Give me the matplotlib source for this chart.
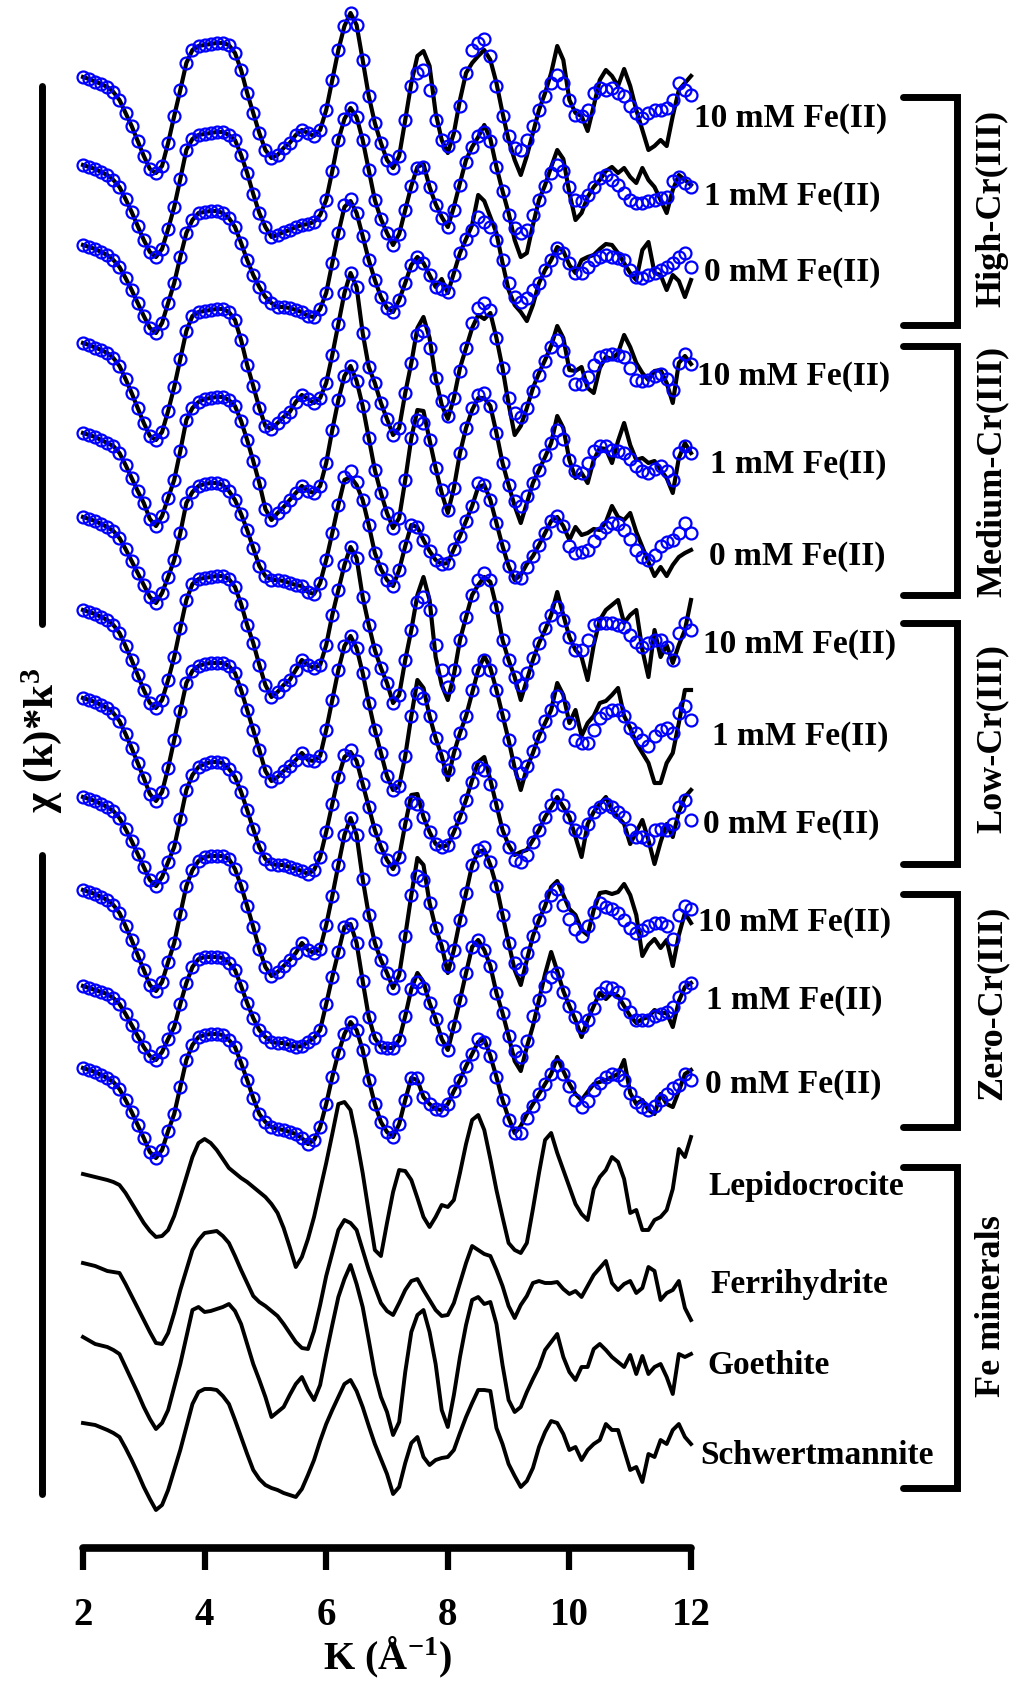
import numpy as np
import matplotlib
matplotlib.use("Agg")
import matplotlib.pyplot as plt
from matplotlib.lines import Line2D
import matplotlib.transforms as mtransforms

plt.rcParams["font.family"] = ["Liberation Serif", "DejaVu Serif"]
plt.rcParams["font.weight"] = "bold"
plt.rcParams["mathtext.fontset"] = "custom"
plt.rcParams["mathtext.rm"] = "Liberation Serif:bold"
plt.rcParams["mathtext.it"] = "Liberation Serif:bold"
plt.rcParams["mathtext.bf"] = "Liberation Serif:bold"
plt.rcParams["mathtext.default"] = "bf"

# ---------------------------------------------------------------- data
# k grid (1/Angstrom) shared by every spectrum
k = np.linspace(2.0, 12.0, 101)

# chi(k)*k^3 (arbitrary units) -- experimental spectra and shell fits
high10_data = [0, -0.2, -0.45, -0.7, -1.0, -1.5, -2.3, -3.6, -4.9, -6.4,
               -7.9, -9.2, -9.6, -8.9, -6.6, -3.9, -1.3, 1.4, 2.7, 3.1,
               3.2, 3.3, 3.4, 3.4, 3.2, 2.4, 0.7, -1.6, -3.6, -5.6,
               -7.3, -8.1, -7.8, -7.1, -6.6, -5.8, -5.3, -5.6, -5.9, -5.3,
               -3.3, -0.3, 2.7, 5.1, 6.4, 5.2, 1.7, -1.9, -4.6, -6.6,
               -8.3, -9.1, -7.9, -4.3, -0.6, 2.1, 2.6, 1.1, -3.6, -6.3,
               -7.6, -5.6, -2.3, 0.4, 1.4, 2.1, 2.7, 1.7, -0.6, -3.6,
               -6.3, -8.3, -9.8, -7.9, -5.6, -3.3, -1.6, 0.4, 3.1, 1.7,
               -2.3, -3.6, -3.9, -5.4, -2.9, -0.3, 0.7, 0.1, -0.9, 0.8,
               -0.9, -3.3, -5.3, -7.3, -6.9, -6.3, -6.9, -3.9, -1.3, -0.6,
               0.1]
high10_fit = [0, -0.2, -0.45, -0.7, -1.0, -1.5, -2.3, -3.6, -4.9, -6.4,
              -7.9, -9.2, -9.6, -8.9, -6.6, -3.9, -1.3, 1.4, 2.7, 3.1,
              3.2, 3.3, 3.4, 3.4, 3.2, 2.4, 0.7, -1.6, -3.6, -5.6,
              -7.3, -8.1, -7.8, -7.1, -6.6, -5.8, -5.3, -5.6, -5.9, -5.3,
              -3.3, -0.3, 2.7, 5.1, 6.4, 5.2, 1.7, -1.9, -4.6, -6.6,
              -8.3, -9.1, -7.9, -4.3, -0.9, 0.4, 0.7, -1.3, -4.3, -6.3,
              -6.9, -5.9, -2.9, 0.4, 2.7, 3.4, 3.8, 2.1, -0.9, -3.9,
              -5.9, -7.1, -7.3, -6.3, -4.9, -3.3, -1.9, -0.6, 0.2, -0.6,
              -2.3, -3.8, -3.9, -3.3, -1.6, -1.1, -1.3, -1.1, -1.6, -1.9,
              -2.9, -3.6, -4.1, -3.6, -3.3, -3.3, -3.1, -2.3, -0.6, -1.3,
              -1.8]

high1_data = [0, -0.2, -0.4, -0.7, -1.0, -1.5, -2.2, -3.4, -4.7, -6.1,
              -7.5, -8.7, -9.2, -8.4, -6.4, -4.2, -1.4, 1.5, 2.6, 3.0,
              3.1, 3.2, 3.3, 3.3, 3.0, 2.5, 1.0, -0.8, -2.9, -4.8,
              -6.2, -7.2, -7.0, -6.7, -6.5, -6.2, -6.0, -5.9, -5.7, -5.0,
              -3.5, -0.6, 2.5, 4.6, 5.7, 4.8, 2.5, -0.5, -3.5, -5.4,
              -6.8, -8.0, -6.9, -4.5, -2.1, -0.2, 0.1, -2.2, -3.9, -5.2,
              -6.2, -4.2, -1.8, 0.5, 1.8, 2.8, 4.0, 2.6, -0.2, -2.6,
              -4.8, -7.5, -9.2, -8.8, -6.0, -3.5, -2.0, -0.2, 1.5, 0.6,
              -2.8, -5.5, -4.8, -3.2, -2.2, -1.5, -0.6, -0.2, -0.8, -0.3,
              -1.2, -1.8, -0.3, -1.5, -2.2, -3.5, -4.8, -2.5, -1.0, -1.5,
              -2.0]
high1_fit = [0, -0.2, -0.4, -0.7, -1.0, -1.5, -2.2, -3.4, -4.7, -6.1,
             -7.5, -8.7, -9.2, -8.4, -6.4, -4.2, -1.4, 1.5, 2.6, 3.0,
             3.1, 3.2, 3.3, 3.3, 3.0, 2.5, 1.0, -0.8, -2.9, -4.8,
             -6.2, -7.2, -7.0, -6.7, -6.5, -6.2, -6.0, -5.9, -5.7, -5.0,
             -3.5, -0.6, 2.5, 4.6, 5.7, 4.8, 2.5, -0.5, -3.5, -5.4,
             -6.8, -8.0, -6.9, -4.5, -2.1, -0.3, -0.2, -2.2, -4.0, -5.3,
             -6.2, -4.5, -2.0, 0.3, 1.8, 2.9, 3.3, 2.4, -0.2, -2.6,
             -5.0, -6.3, -6.8, -6.5, -5.0, -3.5, -2.1, -0.8, 0.0, -0.6,
             -2.2, -3.5, -3.6, -3.0, -2.2, -1.3, -1.0, -1.5, -2.0, -2.8,
             -3.5, -3.8, -3.8, -3.6, -3.5, -3.3, -3.2, -1.6, -1.2, -1.8,
             -2.2]

high0_data = [0, -0.2, -0.4, -0.7, -1.0, -1.5, -2.2, -3.3, -4.5, -5.8,
              -7.1, -8.3, -8.8, -7.8, -5.8, -3.8, -1.2, 1.2, 2.5, 3.2,
              3.3, 3.4, 3.4, 3.2, 2.7, 1.8, 0.2, -1.5, -3.0, -4.2,
              -5.2, -5.8, -6.2, -6.2, -6.3, -6.5, -6.7, -7.1, -7.2, -6.4,
              -4.8, -1.8, 1.2, 3.8, 4.4, 3.2, 0.9, -1.5, -3.5, -5.2,
              -6.3, -6.7, -5.5, -3.8, -2.0, -1.2, -1.8, -3.0, -4.2, -3.4,
              -4.8, -2.8, -0.8, 0.6, 2.0, 5.0, 4.4, 2.8, 1.2, -1.8,
              -4.5, -6.0, -6.7, -7.6, -6.0, -3.8, -2.5, -1.5, -0.2, -0.6,
              -2.0, -2.8, -1.5, -1.2, -1.0, -0.4, 0.1, 0.0, -0.8, -1.8,
              -2.8, -3.5, -0.5, 0.3, -2.8, -3.0, -4.5, -3.0, -3.6, -5.2,
              -3.5]
high0_fit = [0, -0.2, -0.4, -0.7, -1.0, -1.5, -2.2, -3.3, -4.5, -5.8,
             -7.1, -8.3, -8.8, -7.8, -5.8, -3.8, -1.2, 1.2, 2.5, 3.2,
             3.3, 3.4, 3.4, 3.2, 2.7, 1.8, 0.2, -1.5, -3.0, -4.2,
             -5.2, -5.8, -6.2, -6.2, -6.3, -6.5, -6.7, -7.1, -7.2, -6.4,
             -4.8, -1.8, 1.2, 4.0, 4.6, 3.2, 0.9, -1.5, -3.5, -5.2,
             -6.3, -6.7, -5.5, -3.8, -2.0, -1.2, -1.8, -3.0, -4.2, -4.4,
             -4.7, -3.0, -0.8, 0.6, 1.5, 2.8, 2.3, 1.8, 0.5, -1.5,
             -3.8, -5.2, -5.7, -5.3, -4.5, -3.8, -2.5, -1.5, -0.3, -0.8,
             -1.8, -2.8, -2.8, -2.2, -1.5, -1.2, -1.0, -1.2, -1.3, -1.5,
             -2.5, -3.2, -3.3, -3.0, -2.8, -2.5, -2.2, -1.8, -1.2, -0.8,
             -2.2]

med10_data = [0, -0.2, -0.45, -0.7, -1.0, -1.5, -2.3, -3.6, -5.0, -6.5,
              -8.0, -9.3, -9.7, -8.9, -6.8, -4.4, -1.6, 1.2, 2.7, 3.1,
              3.2, 3.3, 3.4, 3.4, 3.1, 2.3, 0.3, -2.2, -4.3, -6.5,
              -8.3, -8.6, -8.0, -7.4, -6.9, -5.9, -5.2, -5.6, -6.0, -5.5,
              -4.0, -1.2, 1.9, 5.0, 7.0, 5.6, 1.0, -2.4, -4.0, -6.0,
              -7.6, -9.2, -8.5, -5.0, -2.0, 1.5, 2.6, 0.5, -3.5, -6.2,
              -7.6, -5.5, -2.5, -0.5, 1.5, 2.8, 2.4, 3.0, 0.5, -2.5,
              -6.1, -9.2, -8.3, -6.5, -4.5, -3.0, -1.7, -0.3, 1.7, 0.5,
              -2.7, -2.8, -2.4, -4.5, -5.0, -2.5, -1.4, -1.6, -1.0, 0.8,
              -0.4, -2.0, -3.0, -3.7, -2.8, -2.7, -4.0, -6.0, -2.0, -1.3,
              -2.1]
med10_fit = [0, -0.2, -0.45, -0.7, -1.0, -1.5, -2.3, -3.6, -5.0, -6.5,
             -8.0, -9.3, -9.7, -8.9, -6.8, -4.4, -1.6, 1.2, 2.7, 3.1,
             3.2, 3.3, 3.4, 3.4, 3.1, 2.3, 0.3, -2.2, -4.3, -6.5,
             -8.3, -8.6, -8.0, -7.4, -6.9, -5.9, -5.2, -5.6, -6.0, -5.5,
             -4.0, -1.2, 1.9, 5.0, 7.0, 5.6, 1.0, -2.4, -4.0, -6.0,
             -7.6, -9.2, -8.5, -5.0, -2.0, 0.8, 1.2, -0.5, -3.5, -5.8,
             -7.3, -5.5, -2.8, -0.5, 2.0, 3.5, 4.0, 3.3, 0.5, -2.5,
             -5.5, -7.0, -7.4, -6.5, -4.8, -3.2, -1.8, -0.4, 0.3, -0.8,
             -2.7, -4.1, -4.1, -3.4, -2.2, -1.4, -1.2, -1.1, -1.2, -1.4,
             -2.5, -3.7, -3.8, -3.7, -3.3, -3.1, -3.6, -4.7, -2.0, -1.1,
             -2.1]

med1_data = [0, -0.2, -0.4, -0.7, -1.0, -1.3, -2.0, -3.2, -4.5, -5.8,
             -7.0, -8.6, -9.3, -8.3, -6.5, -4.7, -1.8, 1.3, 2.5, 3.1,
             3.4, 3.5, 3.6, 3.6, 3.3, 2.7, 1.2, -0.7, -2.8, -5.0,
             -7.6, -8.7, -8.0, -7.4, -6.7, -6.0, -5.3, -5.8, -6.0, -5.3,
             -3.0, 0.3, 3.3, 5.7, 6.7, 5.2, 2.7, -0.5, -3.7, -6.0,
             -8.0, -9.5, -8.5, -4.7, -0.5, 2.3, 2.2, -0.7, -3.5, -6.0,
             -8.0, -5.5, -2.0, 0.5, 2.3, 3.5, 3.5, 2.7, 0.0, -3.0,
             -5.2, -7.3, -9.0, -7.0, -5.0, -3.7, -2.4, -1.0, 1.7, 0.5,
             -2.7, -4.5, -4.0, -5.0, -2.7, -1.5, -1.6, -3.0, -0.8, 1.0,
             -1.2, -2.7, -2.5, -3.0, -2.8, -3.7, -4.5, -6.0, -2.5, -1.0,
             -2.0]
med1_fit = [0, -0.2, -0.4, -0.7, -1.0, -1.3, -2.0, -3.2, -4.5, -5.8,
            -7.0, -8.6, -9.3, -8.3, -6.5, -4.7, -1.8, 1.3, 2.5, 3.1,
            3.4, 3.5, 3.6, 3.6, 3.3, 2.7, 1.2, -0.7, -2.8, -5.0,
            -7.6, -8.7, -8.0, -7.4, -6.7, -6.0, -5.3, -5.8, -6.0, -5.3,
            -3.0, 0.3, 3.3, 5.7, 6.7, 5.2, 2.7, -0.5, -3.7, -6.0,
            -8.0, -9.5, -8.5, -4.7, -0.5, 1.3, 1.0, -0.7, -3.5, -5.7,
            -7.7, -5.5, -2.0, 0.5, 2.5, 3.8, 4.0, 2.7, 0.0, -3.0,
            -5.2, -6.8, -7.3, -6.3, -5.0, -3.7, -2.2, -1.0, 0.3, -0.6,
            -2.7, -3.8, -4.0, -3.0, -1.8, -1.3, -1.3, -1.7, -1.8, -2.0,
            -2.6, -3.3, -3.8, -4.0, -3.6, -3.3, -3.8, -4.7, -2.0, -1.3,
            -2.0]

med0_data = [0, -0.2, -0.4, -0.7, -1.0, -1.4, -2.1, -3.2, -4.4, -5.6,
             -6.8, -8.0, -8.6, -7.6, -6.0, -4.3, -1.6, 1.4, 2.5, 3.1,
             3.3, 3.4, 3.4, 3.2, 2.6, 1.7, 0.3, -1.3, -3.1, -4.9,
             -5.9, -6.3, -6.3, -6.4, -6.6, -6.8, -6.9, -7.5, -7.7, -6.6,
             -4.3, -1.6, 1.2, 3.7, 4.0, 3.2, 1.7, -0.8, -3.6, -5.2,
             -6.3, -6.9, -5.3, -2.9, -0.8, -1.0, -2.3, -3.4, -4.3, -4.7,
             -4.6, -3.2, -1.9, -0.4, 1.1, 3.0, 3.2, 1.7, -0.6, -2.9,
             -4.9, -6.3, -5.8, -4.7, -3.9, -2.8, -1.6, -0.4, 0.0, -0.9,
             -2.3, -1.0, -1.8, -1.6, -1.2, -1.3, -0.5, 1.1, 0.0, -0.3,
             0.4, -1.5, -3.0, -4.5, -5.9, -5.0, -5.9, -4.8, -4.0, -3.6,
             -3.3]
med0_fit = [0, -0.2, -0.4, -0.7, -1.0, -1.4, -2.1, -3.2, -4.4, -5.6,
            -6.8, -8.0, -8.6, -7.6, -6.0, -4.3, -1.6, 1.4, 2.5, 3.1,
            3.3, 3.4, 3.4, 3.2, 2.6, 1.7, 0.3, -1.3, -3.1, -4.9,
            -5.9, -6.3, -6.3, -6.4, -6.6, -6.8, -6.9, -7.5, -7.7, -6.6,
            -4.3, -1.6, 1.2, 4.0, 4.6, 3.5, 1.7, -0.8, -3.6, -5.2,
            -6.3, -6.9, -5.3, -2.9, -0.8, -1.0, -2.3, -3.4, -4.3, -4.7,
            -4.6, -3.2, -1.9, -0.4, 1.1, 3.4, 3.2, 1.7, -0.6, -2.9,
            -4.9, -6.0, -6.1, -5.0, -3.9, -2.8, -1.6, -0.4, 0.1, -0.9,
            -2.9, -3.6, -3.5, -3.3, -2.4, -1.6, -1.0, -0.6, -0.7, -1.3,
            -2.2, -3.3, -4.0, -4.3, -3.8, -2.9, -2.5, -2.3, -1.6, -0.6,
            -1.6]

low10_data = [0, -0.2, -0.4, -0.7, -1.0, -1.5, -2.3, -3.6, -5.0, -6.5,
              -8.0, -9.3, -9.8, -9.0, -7.0, -4.7, -1.8, 1.0, 2.6, 3.1,
              3.2, 3.3, 3.4, 3.4, 3.1, 2.3, 0.6, -1.5, -3.3, -5.5,
              -7.5, -8.7, -8.2, -7.5, -7.0, -6.0, -5.0, -5.5, -5.8, -5.5,
              -3.5, -0.5, 2.0, 4.5, 6.3, 5.2, 1.3, -1.5, -4.0, -5.8,
              -7.3, -9.3, -8.5, -5.0, -2.0, 1.5, 3.3, 1.0, -4.7, -7.5,
              -9.0, -6.5, -3.0, -0.7, 1.5, 2.5, 3.3, 2.8, 0.3, -3.0,
              -5.0, -6.7, -9.0, -7.0, -5.0, -3.3, -2.0, -0.5, 1.8, -0.5,
              -2.7, -4.0, -4.7, -7.0, -3.5, -1.0, 0.0, 0.5, 1.0, -1.3,
              -0.5, 0.0, -4.0, -6.7, -2.0, -4.7, -3.5, -5.3, -3.5, -2.0,
              1.0]
low10_fit = [0, -0.2, -0.4, -0.7, -1.0, -1.5, -2.3, -3.6, -5.0, -6.5,
             -8.0, -9.3, -9.8, -9.0, -7.0, -4.7, -1.8, 1.0, 2.6, 3.1,
             3.2, 3.3, 3.4, 3.4, 3.1, 2.3, 0.6, -1.5, -3.3, -5.5,
             -7.5, -8.7, -8.2, -7.5, -7.0, -6.0, -5.0, -5.5, -5.8, -5.5,
             -3.5, -0.5, 2.0, 4.5, 6.3, 5.2, 1.3, -1.5, -4.0, -5.8,
             -7.3, -9.3, -8.5, -5.0, -2.0, 0.8, 1.3, 0.0, -3.5, -6.0,
             -7.7, -6.0, -3.0, -0.7, 1.5, 3.0, 3.7, 3.0, 0.3, -3.0,
             -5.0, -6.7, -7.5, -6.3, -4.8, -3.3, -1.8, -0.5, 0.3, -1.0,
             -2.7, -4.0, -4.0, -3.0, -1.5, -1.3, -1.3, -1.3, -1.5, -1.7,
             -2.5, -3.2, -3.7, -3.3, -3.0, -3.0, -3.7, -5.0, -2.3, -1.3,
             -2.0]

low1_data = [0, -0.2, -0.4, -0.7, -1.0, -1.5, -2.3, -3.6, -5.0, -6.5,
             -8.0, -9.6, -10.3, -9.4, -7.0, -4.2, -1.3, 1.5, 2.7, 3.2,
             3.4, 3.5, 3.5, 3.5, 3.2, 2.5, 0.8, -1.2, -3.2, -5.2,
             -7.3, -8.3, -7.9, -7.3, -6.8, -6.2, -5.5, -6.2, -6.3, -5.8,
             -3.2, -0.2, 2.8, 5.2, 6.2, 5.0, 2.5, -0.5, -3.2, -5.5,
             -7.8, -9.2, -8.8, -5.8, -1.8, 1.8, 1.0, -1.8, -4.0, -5.8,
             -8.2, -5.5, -3.5, -1.8, 0.5, 2.8, 4.2, 3.0, 0.8, -1.7,
             -4.2, -7.0, -9.2, -7.0, -5.5, -3.8, -2.5, -1.2, 1.5, 0.3,
             -2.5, -1.2, -3.8, -2.5, -1.8, -0.5, -0.3, 0.3, 1.0, -1.8,
             -3.0, -4.5, -5.5, -6.5, -8.5, -8.5, -6.5, -5.5, -2.5, 0.8,
             0.8]
low1_fit = [0, -0.2, -0.4, -0.7, -1.0, -1.5, -2.3, -3.6, -5.0, -6.5,
            -8.0, -9.6, -10.3, -9.4, -7.0, -4.2, -1.3, 1.5, 2.7, 3.2,
            3.4, 3.5, 3.5, 3.5, 3.2, 2.5, 0.8, -1.2, -3.2, -5.2,
            -7.3, -8.3, -7.9, -7.3, -6.8, -6.2, -5.5, -6.2, -6.3, -5.8,
            -3.2, -0.2, 2.8, 5.2, 6.2, 5.0, 2.5, -0.5, -3.2, -5.5,
            -7.8, -9.2, -8.8, -5.8, -1.8, 0.5, 0.0, -1.8, -4.0, -5.8,
            -7.2, -5.5, -3.5, -1.8, 0.8, 2.8, 3.8, 2.8, 0.8, -1.7,
            -4.2, -6.5, -7.5, -6.8, -5.3, -3.8, -2.3, -1.2, 0.2, -0.8,
            -2.5, -4.2, -4.5, -4.5, -3.2, -2.0, -1.5, -1.2, -1.2, -1.8,
            -3.0, -3.5, -4.2, -4.8, -3.8, -3.2, -3.0, -3.5, -1.5, -0.8,
            -2.2]

low0_data = [0, -0.2, -0.4, -0.7, -1.0, -1.4, -2.1, -3.2, -4.4, -5.7,
             -7.0, -8.3, -8.9, -8.0, -6.5, -5.0, -2.2, 0.7, 2.2, 3.0,
             3.3, 3.5, 3.5, 3.4, 2.8, 2.0, 0.5, -1.3, -3.2, -5.0,
             -6.2, -6.7, -6.8, -6.8, -7.0, -7.2, -7.4, -7.7, -7.3, -6.0,
             -3.5, -0.7, 2.0, 4.0, 4.5, 3.6, 1.3, -1.0, -3.3, -5.0,
             -6.3, -7.2, -6.0, -2.7, 0.2, 0.3, -2.0, -3.5, -4.7, -5.0,
             -4.8, -3.5, -2.0, -0.3, 1.7, 3.5, 4.0, 1.7, -0.8, -3.3,
             -4.8, -5.8, -5.5, -5.3, -4.3, -3.3, -2.0, -1.0, 0.0, -1.0,
             -2.0, -4.0, -6.0, -2.7, -1.5, -0.7, 0.0, -1.3, -2.0, -2.7,
             -4.7, -3.5, -2.3, -4.3, -6.7, -4.5, -2.7, -4.0, -1.5, 0.0,
             0.7]
low0_fit = [0, -0.2, -0.4, -0.7, -1.0, -1.4, -2.1, -3.2, -4.4, -5.7,
            -7.0, -8.3, -8.9, -8.0, -6.5, -5.0, -2.2, 0.7, 2.2, 3.0,
            3.3, 3.5, 3.5, 3.4, 2.8, 2.0, 0.5, -1.3, -3.2, -5.0,
            -6.2, -6.7, -6.8, -6.8, -7.0, -7.2, -7.4, -7.7, -7.3, -6.0,
            -3.5, -0.7, 2.0, 4.2, 4.7, 3.6, 1.3, -1.0, -3.3, -5.0,
            -6.3, -7.2, -6.0, -2.7, -0.5, -0.7, -2.0, -3.5, -4.7, -5.0,
            -4.8, -3.5, -2.0, -0.3, 1.5, 3.0, 2.7, 1.3, -0.8, -3.3,
            -5.0, -6.3, -6.5, -5.8, -4.5, -3.3, -2.0, -0.8, 0.2, -0.8,
            -2.0, -3.3, -3.5, -2.7, -1.5, -1.0, -0.7, -1.0, -1.5, -2.0,
            -3.3, -4.0, -4.0, -4.3, -3.3, -3.2, -3.3, -2.7, -1.0, -0.3,
            -2.3]

zero10_data = [0, -0.2, -0.4, -0.7, -1.0, -1.5, -2.3, -3.6, -5.0, -6.5,
               -8.0, -9.5, -10.1, -9.2, -7.2, -5.3, -2.4, 0.4, 2.0, 2.9,
               3.3, 3.4, 3.4, 3.4, 3.1, 2.1, 0.4, -1.6, -3.7, -5.9,
               -7.7, -8.6, -8.2, -7.6, -7.0, -6.3, -5.3, -6.0, -6.3, -5.9,
               -3.5, -0.6, 2.5, 5.5, 7.2, 5.5, 1.1, -2.5, -5.3, -7.0,
               -8.3, -9.8, -8.5, -4.6, -0.5, 3.2, 2.5, -1.3, -3.8, -5.6,
               -8.3, -6.0, -3.0, -0.3, 2.5, 3.8, 4.0, 2.5, 0.4, -2.5,
               -5.3, -8.0, -9.5, -7.0, -4.6, -3.0, -1.6, 0.3, 0.9, -0.5,
               -1.9, -2.5, -4.0, -4.5, -2.0, -0.3, -0.2, -0.4, -0.2, 0.6,
               -0.5, -2.5, -6.6, -5.5, -4.9, -5.8, -5.0, -7.6, -4.5, -2.3,
               -3.3]
zero10_fit = [0, -0.2, -0.4, -0.7, -1.0, -1.5, -2.3, -3.6, -5.0, -6.5,
              -8.0, -9.5, -10.1, -9.2, -7.2, -5.3, -2.4, 0.4, 2.0, 2.9,
              3.3, 3.4, 3.4, 3.4, 3.1, 2.1, 0.4, -1.6, -3.7, -5.9,
              -7.7, -8.6, -8.2, -7.6, -7.0, -6.3, -5.3, -6.0, -6.3, -5.9,
              -3.5, -0.6, 2.5, 5.5, 7.2, 5.5, 1.1, -2.5, -5.3, -7.0,
              -8.3, -9.8, -8.5, -4.6, -0.5, 1.4, 1.0, -1.3, -3.8, -5.6,
              -7.6, -6.0, -3.0, -0.3, 2.5, 4.0, 4.3, 2.8, 0.4, -2.5,
              -5.3, -7.3, -7.9, -6.3, -4.6, -3.0, -1.6, -0.5, 0.1, -1.5,
              -2.9, -3.9, -4.6, -3.6, -2.2, -1.3, -1.7, -1.9, -2.3, -3.0,
              -3.8, -4.3, -4.0, -3.6, -3.3, -3.3, -3.6, -4.9, -2.5, -1.6,
              -1.9]

zero1_data = [0, -0.2, -0.4, -0.6, -0.8, -1.2, -1.8, -2.8, -3.9, -5.0,
              -6.1, -7.0, -7.4, -6.6, -5.3, -4.1, -1.8, 0.3, 1.9, 2.7,
              2.9, 2.9, 2.9, 2.8, 2.3, 1.6, 0.0, -1.7, -3.2, -4.4,
              -5.1, -5.6, -5.7, -5.7, -5.9, -6.1, -6.0, -5.6, -5.2, -4.4,
              -1.8, 0.9, 3.4, 5.9, 6.2, 4.3, 0.5, -3.1, -5.2, -6.1,
              -6.2, -6.2, -5.4, -3.0, -0.3, 1.3, 0.4, -1.7, -3.3, -5.3,
              -6.4, -4.0, -1.4, 1.3, 3.9, 4.6, 3.6, 2.0, -0.7, -2.7,
              -5.0, -7.5, -8.5, -6.1, -4.0, -1.4, 1.2, 3.4, 1.5, -0.5,
              -2.0, -3.4, -5.1, -3.4, -2.0, -0.7, -1.3, -0.7, -1.0, -2.0,
              -3.0, -3.7, -3.3, -3.1, -2.4, -2.7, -2.7, -4.1, -1.5, -0.1,
              0.3]
zero1_fit = [0, -0.2, -0.4, -0.6, -0.8, -1.2, -1.8, -2.8, -3.9, -5.0,
             -6.1, -7.0, -7.4, -6.6, -5.3, -4.1, -1.8, 0.3, 1.9, 2.7,
             2.9, 2.9, 2.9, 2.8, 2.3, 1.6, 0.0, -1.7, -3.2, -4.4,
             -5.1, -5.6, -5.7, -5.7, -5.9, -6.1, -6.0, -5.6, -5.2, -4.4,
             -1.8, 0.9, 3.4, 5.9, 6.2, 4.3, 0.5, -3.1, -5.2, -6.1,
             -6.2, -6.2, -5.4, -3.0, -0.3, 0.4, -0.2, -1.7, -3.3, -5.3,
             -6.4, -4.0, -1.4, 1.3, 3.9, 4.6, 3.6, 2.0, -0.7, -2.7,
             -5.0, -6.5, -7.1, -5.5, -3.0, -1.4, 0.0, 0.9, 1.3, -0.6,
             -2.0, -3.1, -4.1, -3.4, -2.2, -0.7, -0.1, -0.2, -0.6, -1.8,
             -2.6, -3.4, -3.4, -3.4, -3.0, -2.8, -2.6, -2.1, -1.1, -0.1,
             0.3]

zero0_data = [0, -0.2, -0.4, -0.7, -1.0, -1.4, -2.1, -3.2, -4.4, -5.7,
              -7.0, -8.4, -9.0, -8.2, -6.3, -4.6, -1.9, 0.8, 2.3, 3.1,
              3.3, 3.4, 3.4, 3.3, 2.8, 2.1, 0.5, -1.2, -3.0, -4.6,
              -5.4, -5.9, -6.1, -6.2, -6.4, -6.6, -7.0, -7.6, -7.2, -5.9,
              -3.6, -0.9, 1.5, 3.4, 4.6, 3.8, 1.8, -1.2, -3.6, -5.4,
              -6.4, -6.9, -5.6, -3.2, -1.0, -1.2, -2.9, -3.6, -4.1, -4.2,
              -3.6, -2.3, -1.2, 0.2, 1.4, 2.6, 2.9, 1.2, -0.9, -3.2,
              -5.0, -6.5, -5.8, -4.6, -3.6, -2.6, -1.6, -0.6, 1.1, -0.3,
              -1.6, -2.6, -3.2, -2.4, -1.6, -1.4, -1.2, -0.9, -0.6, 0.8,
              -2.5, -3.6, -3.2, -4.2, -4.6, -2.6, -3.6, -3.9, -2.3, -0.6,
              -0.2]
zero0_fit = [0, -0.2, -0.4, -0.7, -1.0, -1.4, -2.1, -3.2, -4.4, -5.7,
             -7.0, -8.4, -9.0, -8.2, -6.3, -4.6, -1.9, 0.8, 2.3, 3.1,
             3.3, 3.4, 3.4, 3.3, 2.8, 2.1, 0.5, -1.2, -3.0, -4.6,
             -5.4, -5.9, -6.1, -6.2, -6.4, -6.6, -7.0, -7.6, -7.2, -5.9,
             -3.6, -0.9, 1.5, 3.4, 4.6, 3.8, 1.8, -1.2, -3.6, -5.4,
             -6.4, -6.9, -5.6, -3.2, -1.0, -1.0, -2.9, -3.6, -4.1, -4.2,
             -3.6, -2.3, -1.2, 0.2, 1.4, 2.9, 2.6, 1.2, -0.9, -3.2,
             -5.2, -6.5, -6.5, -5.0, -3.8, -2.6, -1.6, -0.6, 0.3, -0.6,
             -1.8, -3.2, -3.9, -3.3, -2.2, -1.5, -0.9, -0.6, -0.7, -1.2,
             -2.5, -3.4, -3.9, -4.2, -3.8, -3.2, -2.6, -2.0, -1.7, -0.6,
             -1.2]

# reference Fe mineral spectra
lepidocrocite = [0, -0.15, -0.3, -0.45, -0.6, -0.8, -1.1, -1.9, -2.9, -3.9,
                 -4.9, -5.7, -6.3, -6.2, -5.6, -4.2, -2.3, -0.3, 1.7, 3.1,
                 3.5, 3.1, 2.4, 1.5, 0.6, 0.1, -0.4, -0.8, -1.3, -1.8,
                 -2.3, -3.0, -3.9, -5.4, -7.3, -9.3, -8.3, -6.5, -4.3, -1.6,
                 1.1, 4.0, 7.0, 7.2, 6.4, 3.5, 0.1, -3.8, -7.6, -8.2,
                 -4.9, -1.8, 0.4, 0.3, -0.6, -2.4, -4.3, -5.3, -4.3, -3.1,
                 -3.3, -2.6, 0.1, 3.0, 5.4, 5.9, 4.4, 1.5, -1.6, -4.3,
                 -6.9, -7.6, -7.9, -6.9, -3.5, 0.1, 3.4, 4.1, 2.1, 0.4,
                 -1.3, -3.0, -4.0, -4.6, -1.5, -0.3, 0.4, 1.7, 1.2, -0.5,
                 -3.9, -3.6, -5.6, -5.6, -4.6, -4.3, -3.6, -1.5, 2.5, 1.7,
                 3.7]
ferrihydrite = [0, -0.15, -0.3, -0.55, -0.8, -0.9, -1.0, -2.1, -3.3, -4.5,
                -5.7, -6.9, -8.0, -8.1, -7.0, -5.0, -2.7, -0.7, 1.3, 2.3,
                3.0, 3.1, 3.2, 2.7, 2.0, 0.7, -0.7, -2.0, -3.3, -3.9,
                -4.3, -4.8, -5.3, -6.1, -7.0, -7.9, -8.5, -8.6, -6.8, -4.2,
                -1.3, 1.0, 3.3, 4.3, 4.0, 3.3, 1.3, -0.7, -2.4, -4.0,
                -4.8, -5.2, -4.0, -2.7, -1.8, -1.6, -2.7, -3.7, -4.7, -5.3,
                -5.2, -4.0, -2.0, 0.0, 1.7, 1.3, 0.9, 0.7, -0.7, -2.3,
                -4.3, -5.5, -4.2, -3.3, -2.0, -1.8, -2.0, -2.0, -1.9, -2.6,
                -3.1, -2.8, -3.4, -2.3, -1.2, -0.5, 0.2, -2.0, -2.7, -2.1,
                -1.8, -3.0, -2.5, -0.4, -0.8, -3.7, -3.0, -2.7, -1.8, -4.5,
                -5.7]
goethite = [0, -0.35, -0.7, -0.85, -1.0, -1.3, -1.7, -3.0, -4.3, -5.6,
            -7.0, -8.2, -9.2, -8.6, -7.3, -5.0, -2.7, 0.0, 2.7, 3.0,
            2.5, 2.6, 2.8, 3.0, 3.3, 2.6, 1.3, -0.7, -2.7, -4.3,
            -6.0, -8.0, -7.5, -7.0, -5.8, -4.7, -4.0, -5.3, -6.3, -4.8,
            -1.7, 1.2, 4.0, 5.8, 7.2, 5.3, 3.0, -0.3, -3.7, -6.0,
            -7.5, -9.8, -8.5, -3.5, 0.5, 2.2, 2.7, 0.5, -2.7, -7.3,
            -9.0, -5.8, -2.0, 1.2, 3.7, 4.0, 3.3, 3.5, 1.3, -2.8,
            -6.3, -7.5, -7.0, -5.5, -4.2, -3.0, -1.3, -0.5, 0.3, -2.0,
            -3.5, -4.3, -3.0, -3.0, -1.2, -0.7, -1.3, -2.0, -2.5, -3.0,
            -1.8, -3.7, -1.9, -3.7, -3.0, -2.7, -4.0, -5.7, -1.7, -2.0,
            -1.7]
schwertmannite = [0, -0.1, -0.2, -0.45, -0.7, -1.0, -1.4, -2.5, -3.7, -5.0,
                  -6.4, -7.6, -8.7, -8.2, -6.7, -4.7, -2.7, -0.4, 1.9, 3.1,
                  3.4, 3.4, 3.3, 2.7, 1.9, 0.3, -1.4, -3.1, -4.7, -5.6,
                  -6.2, -6.5, -6.7, -7.0, -7.2, -7.4, -6.6, -5.2, -3.7, -1.8,
                  -0.1, 1.3, 2.6, 3.9, 4.3, 3.2, 1.6, -0.3, -2.1, -3.6,
                  -5.1, -7.1, -6.4, -4.0, -2.0, -1.4, -3.4, -4.2, -3.7, -3.5,
                  -3.4, -2.7, -1.0, 0.6, 2.0, 3.3, 3.3, 3.2, -0.5, -2.1,
                  -4.1, -5.3, -6.4, -5.8, -4.5, -2.4, -0.9, 0.2, 0.0, -1.1,
                  -2.7, -2.4, -3.7, -2.7, -2.1, -1.7, -0.1, -0.7, -0.7, -2.7,
                  -4.7, -4.4, -5.9, -3.1, -3.4, -1.7, -2.1, -0.7, -0.1, -1.4,
                  -2.1]

sample_data = [high10_data, high1_data, high0_data,
               med10_data, med1_data, med0_data,
               low10_data, low1_data, low0_data,
               zero10_data, zero1_data, zero0_data]
sample_fits = [high10_fit, high1_fit, high0_fit,
               med10_fit, med1_fit, med0_fit,
               low10_fit, low1_fit, low0_fit,
               zero10_fit, zero1_fit, zero0_fit]
minerals = [lepidocrocite, ferrihydrite, goethite, schwertmannite]

fe_labels = ["10 mM Fe(II)", "1 mM Fe(II)", "0 mM Fe(II)"] * 4
mineral_labels = ["Lepidocrocite", "Ferrihydrite", "Goethite", "Schwertmannite"]
group_labels = ["High-Cr(III)", "Medium-Cr(III)", "Low-Cr(III)",
                "Zero-Cr(III)", "Fe minerals"]
k_ticks = [2, 4, 6, 8, 10, 12]

# ---------------------------------------------------------------- layout
W, H = 1025, 1686
AXIS_ROW = 1548          # pixel row of the k axis line
K2_COL, PX_PER_K = 83, 60.8
UNIT_PX = 10.0           # one chi unit in pixels

# vertical stacking offsets of the spectra (chi units below the top edge)
sample_offsets = [7.7, 16.5, 24.5, 34.3, 43.3, 51.7,
                  61.0, 69.8, 79.7, 89.0, 98.6, 106.8]
mineral_offsets = [117.4, 126.3, 133.7, 142.3]

# text anchors in pixels (left x, centre y)
sample_label_pos = [(694, 118), (704, 196), (704, 272),
                    (697, 376), (710, 465), (709, 556),
                    (703, 645), (712, 737), (703, 825),
                    (698, 922), (706, 1001), (705, 1085)]
mineral_label_pos = [(708, 1186), (710, 1284), (707, 1366), (700, 1455)]
group_spans = [(97, 325), (346, 595), (623, 864), (894, 1127), (1167, 1488)]
group_label_y = [208, 471, 738, 1003, 1306]

fig = plt.figure(figsize=(W / 100, H / 100), dpi=100)
ax = fig.add_axes([0, 1 - AXIS_ROW / H, 1, AXIS_ROW / H])
ax.set_xlim(2 - K2_COL / PX_PER_K, 2 + (W - K2_COL) / PX_PER_K)
ax.set_ylim(-AXIS_ROW / UNIT_PX, 0)

for data, fit, off in zip(sample_data, sample_fits, sample_offsets):
    ax.plot(k, np.asarray(data) - off, color="black", lw=3.0,
            solid_joinstyle="round", zorder=2)
    ax.plot(k, np.asarray(fit) - off, ls="none", marker="o", ms=8.6,
            mfc="none", mec="#0000ff", mew=1.6, zorder=3)

for spec, off in zip(minerals, mineral_offsets):
    ax.plot(k, np.asarray(spec) - off, color="black", lw=2.8,
            solid_joinstyle="round", zorder=2)

for side in ("top", "left", "right"):
    ax.spines[side].set_visible(False)
ax.spines["bottom"].set_bounds(2, 12)
ax.spines["bottom"].set_linewidth(5.5)
ax.spines["bottom"].set_capstyle("round")
ax.set_xticks(k_ticks)
ax.set_xticklabels([str(t) for t in k_ticks])
ax.set_yticks([])
ax.tick_params(axis="x", direction="out", length=16, width=4.5,
               pad=19, labelsize=28, color="black")

trans_kx = mtransforms.blended_transform_factory(ax.transData, fig.transFigure)
ax.text(7, 1 - 1657 / H, r"K (Å$^{-1}$)", transform=trans_kx,
        ha="center", va="center", fontsize=29, fontweight="bold")


def fx(x):
    return x / W


def fy(y):
    return 1 - y / H


# left-hand ordinate decoration
for y0, y1 in [(86, 624), (855, 1494)]:
    fig.add_artist(Line2D([fx(42), fx(42)], [fy(y0), fy(y1)], lw=5,
                          color="black", solid_capstyle="round"))
fig.text(fx(42), fy(741), r"χ (k)*k$^{3}$", rotation=90, ha="center",
         va="center", fontsize=31, fontweight="bold")

# sample names
for txt, (x, y) in zip(fe_labels + mineral_labels,
                       sample_label_pos + mineral_label_pos):
    fig.text(fx(x), fy(y), txt, ha="left", va="center", fontsize=24,
             fontweight="bold")

# group brackets and titles
for (top, bot), yc, name in zip(group_spans, group_label_y, group_labels):
    fig.add_artist(Line2D([fx(903), fx(957), fx(957), fx(903)],
                          [fy(top), fy(top), fy(bot), fy(bot)], lw=5,
                          color="black", solid_capstyle="round",
                          solid_joinstyle="miter"))
    fig.text(fx(992), fy(yc), name, rotation=90, ha="center", va="center",
             fontsize=26, fontweight="bold")

fig.savefig("out.png", dpi=100)
